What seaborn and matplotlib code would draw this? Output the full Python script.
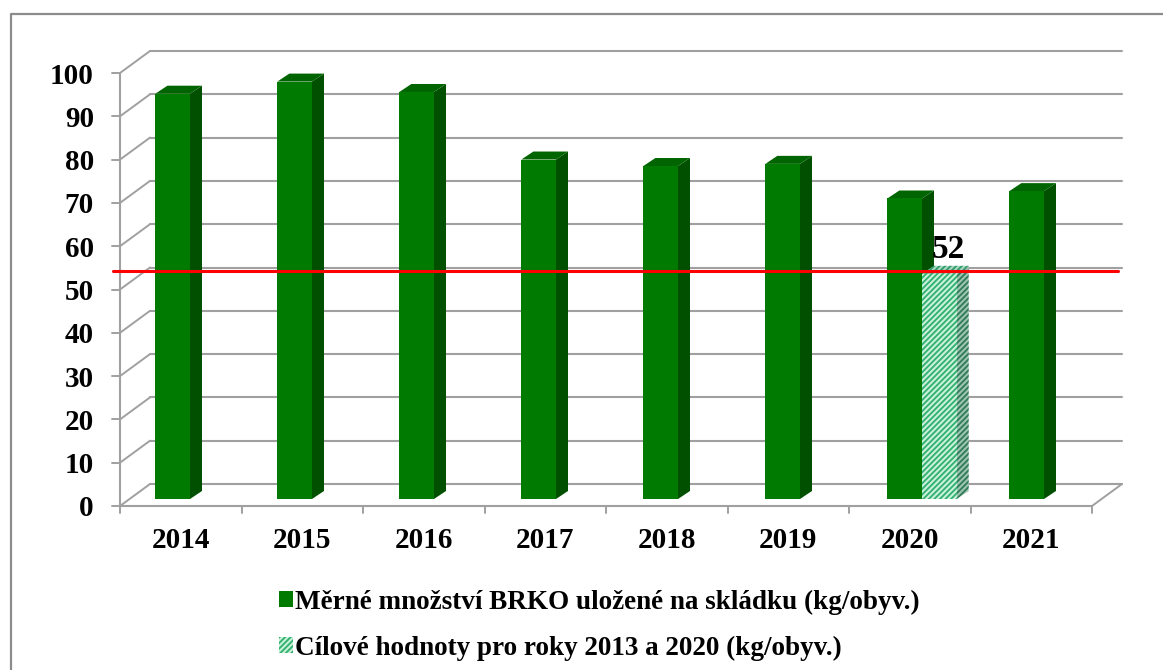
import pandas as pd
import matplotlib
matplotlib.use("Agg")
import matplotlib.pyplot as plt
import seaborn as sns
from matplotlib.lines import Line2D
from matplotlib.patches import Polygon, Rectangle
from matplotlib.transforms import IdentityTransform

years = ["2014", "2015", "2016", "2017", "2018", "2019", "2020", "2021"]
measured = [93.6, 96.4, 94.0, 78.4, 76.9, 77.4, 69.4, 71.1]
target = [None, None, None, None, None, None, 52, None]
y_ticks = [0, 10, 20, 30, 40, 50, 60, 70, 80, 90, 100]
limit_line = 52.6
measured_label = "Měrné množství BRKO uložené na skládku (kg/obyv.)"
target_label = "Cílové hodnoty pro roky 2013 a 2020 (kg/obyv.)"

W, H = 1163, 670
GREY = "#a0a0a0"
DEPTH_BAR = (12, 8)
FRONT = (-9, -7)   # front floor edge relative to the bar plane
BACK = (21, 15)    # back wall relative to the bar plane
FRAME_SCALE = 972 / 976   # the grid box is a bit narrower than the bar spacing

sns.set_theme(style="white")
plt.rcParams["font.family"] = ["Liberation Serif", "DejaVu Serif"]
plt.rcParams["font.weight"] = "bold"
plt.rcParams["hatch.linewidth"] = 1.3

df = pd.DataFrame({
    "year": years * 2,
    "value": pd.to_numeric(pd.Series(measured + target), errors="coerce"),
    "series": [measured_label] * 8 + [target_label] * 8,
})

fig = plt.figure(figsize=(W / 100, H / 100), dpi=100)
# outer frame, only top and left are inside the picture
fig.add_artist(Line2D([10.5 / W, 10.5 / W, 1], [0, 1 - 14 / H, 1 - 14 / H],
                      transform=fig.transFigure, color="#8c8c8c", lw=1.6))

# axes is the plane the bar fronts stand on
ax = fig.add_axes([129 / W, 1 - 499 / H, 976 / W, 433 / H])
ax.patch.set_alpha(0)
sns.barplot(data=df, x="year", y="value", hue="series", width=0.568, gap=0,
            palette=["#007a00", "#c8f0da"], saturation=1, ax=ax, legend=False,
            zorder=3, linewidth=0)
ax.set_xlim(-0.5, 7.5)
ax.set_ylim(0, 100)
ax.set_xlabel("")
ax.set_ylabel("")
for s in ax.spines.values():
    s.set_visible(False)
ax.tick_params(left=False, bottom=False, labelleft=False, labelbottom=False)

px = IdentityTransform()
to_px = ax.transData.transform
x_end = -0.5 + 8 * FRAME_SCALE

# back wall gridlines + slanted side wall
for v in y_ticks:
    a = to_px((-0.5, v)) + FRONT
    b = to_px((-0.5, v)) + BACK
    c = to_px((x_end, v)) + BACK
    ax.plot([b[0], c[0]], [b[1], c[1]], transform=px, color=GREY, lw=1.5, clip_on=False, zorder=1)
    ax.plot([a[0], b[0]], [a[1], b[1]], transform=px, color=GREY, lw=1.4, clip_on=False, zorder=1)
    ax.plot([a[0] - 8, a[0]], [a[1], a[1]], transform=px, color=GREY, lw=1.4, clip_on=False, zorder=1)
    ax.text(a[0] - 26, a[1] - 3, str(v), transform=px, ha="right", va="center",
            fontsize=21, color="black")

# floor outline and front axis
a = to_px((x_end, 0)) + FRONT
b = to_px((x_end, 0)) + BACK
o = to_px((-0.5, 0)) + FRONT
t = to_px((-0.5, 100)) + FRONT
ax.plot([a[0], b[0]], [a[1], b[1]], transform=px, color=GREY, lw=1.4, clip_on=False, zorder=1)
ax.plot([o[0], a[0]], [o[1], a[1]], transform=px, color=GREY, lw=1.5, clip_on=False, zorder=1)
ax.plot([o[0], t[0]], [o[1], t[1]], transform=px, color=GREY, lw=1.5, clip_on=False, zorder=1)
for i in range(9):
    p = to_px((-0.5 + i * FRAME_SCALE, 0)) + FRONT
    ax.plot([p[0], p[0]], [p[1], p[1] - 7], transform=px, color=GREY, lw=1.4, clip_on=False, zorder=1)
for i, y in enumerate(years):
    p = to_px((-0.5 + (i + 0.5) * FRAME_SCALE, 0)) + FRONT
    ax.text(p[0], p[1] - 34, y, transform=px, ha="center", va="center", fontsize=21, color="black")

# 3d sides of the bars, taken from the bars seaborn drew
dx, dy = DEPTH_BAR
for bar in list(ax.patches):
    h = bar.get_height()
    if not h == h or h == 0:
        continue
    x0, y0 = to_px((bar.get_x(), 0))
    x1, y1 = to_px((bar.get_x() + bar.get_width(), h))
    is_target = h == 52
    if is_target:
        bar.set_hatch("//////")
        bar.set_edgecolor("#2fb06c")
        bar.set_linewidth(0)
    side = dict(fc="#9cc4b0", ec="#2f7a58", hatch="//////", lw=0) if is_target else dict(fc="#005000", lw=0)
    top = dict(fc="#a8d8c0", ec="#2f9a68", hatch="//////", lw=0) if is_target else dict(fc="#006400", lw=0)
    ax.add_patch(Polygon([(x1, y0), (x1 + dx, y0 + dy), (x1 + dx, y1 + dy), (x1, y1)],
                         transform=px, clip_on=False, zorder=2, **side))
    ax.add_patch(Polygon([(x0, y1), (x1, y1), (x1 + dx, y1 + dy), (x0 + dx, y1 + dy)],
                         transform=px, clip_on=False, zorder=2, **top))
    if is_target:
        ax.text(x1 - 8, y1 + 24, "52", transform=px, ha="center", va="center",
                fontsize=24, color="black", zorder=6)

# red limit line
ax.plot([-0.632, 7.606], [limit_line, limit_line], color="#ff0000", lw=2.2, clip_on=False, zorder=5)

handles = [Rectangle((0, 0), 1, 1, fc="#007a00", lw=0),
           Rectangle((0, 0), 1, 1, fc="#c8f0da", ec="#2fb06c", hatch="//////", lw=0)]
fig.legend(handles, [measured_label, target_label], loc="upper left",
           bbox_to_anchor=(257 / W, 1 - 568 / H), frameon=False, fontsize=19.5,
           handlelength=0.52, handleheight=0.52, handletextpad=0.1,
           labelspacing=0.76, labelcolor="black", borderpad=0.3)

fig.savefig("out.png", dpi=100)
